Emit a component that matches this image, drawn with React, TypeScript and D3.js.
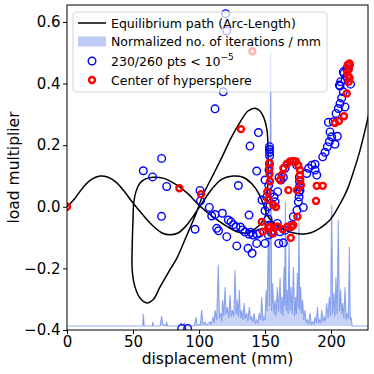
import { useEffect, useRef } from "react";
import * as d3 from "d3";

// equilibrium path (arc-length), [displacement mm, load multiplier]
const PATH: [number, number][] = [
  [0, 0], [6.1, 0.028], [12.9, 0.067], [18.9, 0.09], [25, 0.1], [31.1, 0.096], [37.1, 0.08],
  [43.2, 0.051], [50, 0.012], [56.8, -0.023], [64.4, -0.059], [72, -0.085], [78, -0.091],
  [84.1, -0.085], [90.2, -0.062], [96.2, -0.027], [102.3, 0.012], [109.8, 0.058], [117.4, 0.09],
  [125.8, 0.1], [133.3, 0.096], [140.2, 0.074], [145.5, 0.041], [149.2, 0.002], [150.8, -0.02],
  [147.7, -0.05], [142.4, -0.072], [136.4, -0.085], [129.5, -0.082], [122, -0.066], [110.6, -0.033],
  [100.8, 0.002], [90.9, 0.045], [81.8, 0.074], [72.7, 0.093], [65.2, 0.096], [59.1, 0.09],
  [55.3, 0.077], [52.3, 0.05], [50.6, 0.015], [50, -0.043], [49.4, -0.124], [49.4, -0.206],
  [51.5, -0.26], [55.3, -0.296], [60.6, -0.312], [65.2, -0.302], [70.5, -0.26], [76.5, -0.215],
  [83.3, -0.166], [90.2, -0.098], [97, -0.03], [103, 0.038], [110.6, 0.103], [117.4, 0.161],
  [124.2, 0.223], [131.1, 0.275], [137.1, 0.311], [142.4, 0.32], [146.2, 0.311], [149.2, 0.288],
  [151.5, 0.249], [152.3, 0.184], [152.3, 0.103], [151.5, 0.022], [150.8, -0.02], [153.8, -0.04],
  [159.8, -0.063], [168.9, -0.082], [176.5, -0.088], [184.1, -0.085], [191.7, -0.069],
  [199.2, -0.043], [206.8, 0.009], [212.1, 0.054], [217.4, 0.119], [222, 0.184], [225.8, 0.249],
  [228.8, 0.304], [231.1, 0.34],
];

// normalized no. of iterations per mm
const HIST_X = [
  0, 56, 57.3, 57.8, 58.5, 64.5, 65, 65.6, 70.5, 71.7, 72.5, 74.8, 75.5, 76.2, 85, 86.5, 87, 89, 90,
  96.5, 97.7, 98.5, 101, 102, 103, 104.5, 105.5, 108.3, 109, 110.8, 111.5, 112.1, 113.4, 114.6,
  115.5, 116.4, 117.2, 117.9, 118.8, 119.7, 120.6, 121.5, 122.5, 123.5, 124.4, 125.2, 126.3, 127.3,
  128.2, 129, 129.8, 130.5, 131.4, 132.3, 133.2, 134.1, 135, 136.1, 137, 138.1, 139, 139.9, 140.8,
  141.7, 142.7, 143.7, 144.7, 145.7, 146.6, 147.5, 148.4, 149.2, 150, 150.8, 151.6, 152.5, 153.4,
  154.3, 155, 155.8, 156.7, 157.6, 158.4, 159.3, 160.3, 161.4, 162.1, 162.9, 163.6, 164.4, 164.9,
  165.4, 166.1, 166.9, 167.5, 168.2, 168.9, 169.7, 170.6, 171.5, 172.4, 173.2, 173.8, 174.5, 175.1,
  175.7, 176.3, 177, 177.8, 178.5, 179.4, 180.3, 181.2, 182.1, 183, 184.1, 185, 186.1, 187, 187.9,
  188.8, 189.7, 190.5, 191.2, 192, 193, 193.9, 194.7, 195.7, 196.7, 197.7, 198.7, 199.6, 200.5,
  201.3, 202.2, 203, 203.7, 204.6, 205.5, 206.4, 207.3, 208, 208.8, 209.7, 210.6, 211.5, 212.3,
  213.1, 213.9, 214.6, 215.2, 216, 228,
];
const HIST_V = [
  0, 0, 0, 0.044, 0, 0, 0.015, 0, 0, 0.036, 0.007, 0, 0.015, 0, 0, 0.011, 0, 0.011, 0,
  0, 0.033, 0.004, 0.004, 0.058, 0.007, 0.015, 0.004, 0.015, 0.007, 0.033, 0.011, 0.058, 0.022, 0.223,
  0.029, 0.047, 0.018, 0.095, 0.036, 0.142, 0.044, 0.069, 0.029, 0.113, 0.033, 0.058, 0.036, 0.204,
  0.044, 0.095, 0.036, 0.131, 0.029, 0.058, 0.022, 0.084, 0.026, 0.047, 0.018, 0.069, 0.022, 0.033, 0.015,
  0.047, 0.011, 0.022, 0.011, 0.047, 0.022, 0.106, 0.018, 0.033, 0.022, 0.131, 0.055, 0.35, 0.073,
  1, 0.055, 0.157, 0.044, 0.095, 0.036, 0.142, 0.051, 0.175, 0.044, 0.106, 0.036, 0.215, 0.073,
  0.453, 0.055, 0.131, 0.044, 0.314, 0.055, 0.142, 0.044, 0.215, 0.036, 0.106, 0.044, 0.193, 0.066,
  0.398, 0.055, 0.142, 0.044, 0.095, 0.022, 0.058, 0.015, 0.022, 0.007, 0.047, 0.007, 0.015, 0.007, 0.033,
  0.011, 0.069, 0.015, 0.022, 0.011, 0.058, 0.015, 0.033, 0.018, 0.084, 0.029, 0.106, 0.036, 0.442,
  0.044, 0.12, 0.036, 0.179, 0.044, 0.387, 0.055, 0.131, 0.044, 0.084, 0.029, 0.142, 0.022, 0.047,
  0.029, 0.288, 0.022, 0.033, 0, 0,
];

// converged points (blue)
const BLUE_PTS: [number, number][] = [
  [120.2, 0.627], [121, 0.571], [118.4, 0.373], [112.1, 0.318],
  [71.7, 0.157], [57.8, 0.117], [64.8, 0.097], [75.5, 0.066], [71.6, -0.031],
  [100.8, 0.053], [101.1, 0.019], [107.8, -0.002], [97, -0.073],
  [109.6, -0.03], [112.1, -0.025], [117.7, -0.021], [122.2, -0.043], [124.2, -0.049], [128, -0.065],
  [131.4, -0.066], [134.8, -0.082], [137.9, -0.089], [140.9, -0.092], [143.9, -0.089],
  [126, -0.058], [133, -0.075], [139, -0.083], [146, -0.085],
  [113.4, -0.07], [114.8, -0.078], [121, -0.097], [128.6, -0.127], [137.1, -0.135], [140.2, -0.151],
  [143.7, -0.119], [129.8, 0.069], [137.9, -0.027], [138.6, 0.197], [145, 0.241], [143.7, 0.116],
  [150, -0.119], [152.5, -0.092], [154.5, -0.082], [156, -0.085], [159.3, -0.054], [161.4, -0.081],
  [160.4, -0.119], [163.9, -0.117], [165.2, -0.076], [170.2, -0.059], [171.4, -0.032], [174.2, -0.011],
  [179, -0.002], [175.2, 0.016], [175.8, 0.032], [176.5, 0.054], [176.1, 0.065],
  [157.6, 0.016], [156.8, 0.032], [159.6, 0.049], [153.8, 0.043], [151.3, 0.032], [150, -0.013],
  [147.7, 0.022], [153.4, 0.195], [153.4, 0.186], [153.4, 0.177], [150, 0.087], [153.3, 0.139],
  [153.5, 0.165], [153, 0.12], [152.8, 0.07], [152, 0], [152.3, -0.04], [153, -0.06],
  [160.6, 0.095], [162.1, 0.087], [163.9, 0.096], [165.2, 0.125], [174, 0.135], [176, 0.097],
  [176.1, 0.083], [175.8, 0.048], [181.6, 0.108], [185.4, 0.135], [187.9, 0.119], [189.2, 0.103],
  [183, 0.125], [187.9, 0.138], [193.7, 0.162], [195.5, 0.177], [197.2, 0.195], [198.7, 0.211],
  [200.5, 0.227], [204.8, 0.229], [203, 0.203], [199.2, 0.243], [198, 0.274], [201.7, 0.276],
  [203.8, 0.303], [205.5, 0.319], [206.8, 0.335], [210.6, 0.324], [208.1, 0.353], [209.3, 0.373],
  [206.8, 0.392], [207.3, 0.406], [210.6, 0.411], [209.3, 0.438], [211.9, 0.449], [213.9, 0.46],
  [211.9, 0.423], [214.8, 0.398], [206.3, 0.395], [209.8, 0.433],
  [86.9, -0.395], [91.4, -0.395],
];

// hypersphere centres (red)
const RED_PTS: [number, number][] = [
  [0, 0], [85.1, 0.06], [101.5, 0.041], [131.8, 0.252], [140.4, 0.505],
  [153.3, 0.142], [153.3, 0.125], [153.4, 0.106], [153.8, 0.083], [151.7, 0.049], [156.3, 0.006],
  [158.3, -0.001], [147.5, -0.049], [148.3, -0.081], [152.5, -0.067], [155.8, -0.086], [159.3, -0.065],
  [163.4, -0.073], [166.9, -0.065], [170.2, -0.065], [169.5, -0.101], [174.5, -0.032], [152.5, 0.024],
  [153.8, -0.065], [158.9, -0.065], [171.4, -0.059], [167.7, 0.054], [174.2, 0.054],
  [161.4, 0.087], [162.6, 0.103], [163.9, 0.125], [166.4, 0.139], [168.9, 0.147], [171.4, 0.149],
  [173.5, 0.147], [175.2, 0.135], [176.5, 0.119], [176.5, 0.103], [176.7, 0.087], [177.2, 0.07],
  [189.2, 0.068], [193.7, 0.068], [188.6, 0.019],
  [203, 0.272], [206, 0.278], [209.8, 0.294], [211.9, 0.368], [213.4, 0.406], [213.1, 0.424],
  [212.3, 0.438], [213.6, 0.447], [212.6, 0.46], [214, 0.465], [214, 0.418],
];

const X_TICKS = [0, 50, 100, 150, 200];
const Y_TICKS = [-0.4, -0.2, 0, 0.2, 0.4, 0.6];

const FONT = "DejaVu Sans, sans-serif";
const HIST_BASE = -0.387;
const HIST_SPAN = 0.89;

export default function App() {
  const svgRef = useRef<SVGSVGElement>(null);

  useEffect(() => {
    if (!svgRef.current) return;
    const svg = d3.select(svgRef.current);
    svg.selectAll("*").remove();

    const margin = { top: 5, right: 6, bottom: 44, left: 67 };
    const width = 374;
    const height = 374;

    const x = d3.scaleLinear().domain([0, 228]).range([margin.left, width - margin.right]);
    const y = d3.scaleLinear().domain([-0.4, 0.655]).range([height - margin.bottom, margin.top]);

    svg.append("defs")
      .append("clipPath")
      .attr("id", "plot-clip")
      .append("rect")
      .attr("x", margin.left)
      .attr("y", margin.top)
      .attr("width", width - margin.left - margin.right)
      .attr("height", height - margin.top - margin.bottom);

    svg.append("rect")
      .attr("width", width)
      .attr("height", height)
      .attr("fill", "#fff");

    const plot = svg.append("g").attr("clip-path", "url(#plot-clip)");

    // iteration histogram
    const hist = HIST_X.map((d, i) => ({ x: d, v: HIST_V[i] }));
    const area = d3.area<{ x: number; v: number }>()
      .x(d => x(d.x))
      .y0(y(HIST_BASE))
      .y1(d => y(HIST_BASE + d.v * HIST_SPAN));
    const histLine = d3.line<{ x: number; v: number }>()
      .x(d => x(d.x))
      .y(d => y(HIST_BASE + d.v * HIST_SPAN));

    plot.append("path")
      .datum(hist)
      .attr("fill", "royalblue")
      .attr("fill-opacity", 0.3)
      .attr("d", area);
    plot.append("path")
      .datum(hist)
      .attr("fill", "none")
      .attr("stroke", "royalblue")
      .attr("stroke-opacity", 0.55)
      .attr("stroke-width", 1.1)
      .attr("d", histLine);

    // equilibrium path
    const line = d3.line<[number, number]>()
      .x(d => x(d[0]))
      .y(d => y(d[1]))
      .curve(d3.curveCatmullRom.alpha(0.5));
    plot.append("path")
      .datum(PATH)
      .attr("fill", "none")
      .attr("stroke", "#000")
      .attr("stroke-width", 1.5)
      .attr("d", line);

    plot.selectAll("circle.blue")
      .data(BLUE_PTS)
      .join("circle")
      .attr("class", "blue")
      .attr("cx", d => x(d[0]))
      .attr("cy", d => y(d[1]))
      .attr("r", 3.8)
      .attr("fill", "none")
      .attr("stroke", "#0000ff")
      .attr("stroke-width", 1.4);

    plot.selectAll("circle.red")
      .data(RED_PTS)
      .join("circle")
      .attr("class", "red")
      .attr("cx", d => x(d[0]))
      .attr("cy", d => y(d[1]))
      .attr("r", 3)
      .attr("fill", "none")
      .attr("stroke", "#ff0000")
      .attr("stroke-width", 2.4);

    // axes
    const xAxis = svg.append("g")
      .attr("transform", `translate(0,${height - margin.bottom})`)
      .call(d3.axisBottom(x).tickValues(X_TICKS).tickSize(4).tickPadding(2.5).tickFormat(d3.format("d")));
    const yAxis = svg.append("g")
      .attr("transform", `translate(${margin.left},0)`)
      .call(d3.axisLeft(y).tickValues(Y_TICKS).tickSize(4).tickPadding(2.5).tickFormat(d3.format(".1f")));
    [xAxis, yAxis].forEach(g => {
      g.select(".domain").remove();
      g.selectAll("line").attr("stroke", "#000").attr("stroke-width", 1);
      g.selectAll("text")
        .attr("fill", "#000")
        .style("font-family", FONT)
        .style("font-size", "15px");
    });

    svg.append("rect")
      .attr("x", margin.left)
      .attr("y", margin.top)
      .attr("width", width - margin.left - margin.right)
      .attr("height", height - margin.top - margin.bottom)
      .attr("fill", "none")
      .attr("stroke", "#000")
      .attr("stroke-width", 1);

    svg.append("text")
      .attr("x", (margin.left + width - margin.right) / 2)
      .attr("y", 364)
      .attr("text-anchor", "middle")
      .style("font-family", FONT)
      .style("font-size", "15.5px")
      .text("displacement (mm)");

    svg.append("text")
      .attr("transform", `translate(19,${(margin.top + height - margin.bottom) / 2}) rotate(-90)`)
      .attr("text-anchor", "middle")
      .style("font-family", FONT)
      .style("font-size", "15.5px")
      .text("load multiplier");

    // legend
    const lg = svg.append("g").attr("transform", "translate(73,12)");
    lg.append("rect")
      .attr("width", 254)
      .attr("height", 80)
      .attr("rx", 3)
      .attr("fill", "#fff")
      .attr("fill-opacity", 0.7)
      .attr("stroke", "#d6d6d6")
      .attr("stroke-width", 1);

    const rows = [11, 29.5, 49, 68];
    lg.append("line")
      .attr("x1", 5).attr("x2", 33)
      .attr("y1", rows[0]).attr("y2", rows[0])
      .attr("stroke", "#000").attr("stroke-width", 1.5);
    lg.append("rect")
      .attr("x", 5).attr("y", rows[1] - 5)
      .attr("width", 28).attr("height", 10)
      .attr("fill", "royalblue").attr("fill-opacity", 0.35);
    lg.append("circle")
      .attr("cx", 19).attr("cy", rows[2]).attr("r", 3.8)
      .attr("fill", "none").attr("stroke", "#0000ff").attr("stroke-width", 1.4);
    lg.append("circle")
      .attr("cx", 19).attr("cy", rows[3]).attr("r", 3)
      .attr("fill", "none").attr("stroke", "#ff0000").attr("stroke-width", 2.4);

    const labels = ["Equilibrium path (Arc-Length)", "Normalized no. of iterations / mm", "", "Center of hypersphere"];
    labels.forEach((t, i) => {
      if (!t) return;
      lg.append("text")
        .attr("x", 38)
        .attr("y", rows[i] + 4.5)
        .style("font-family", FONT)
        .style("font-size", "12.5px")
        .text(t);
    });
    const pts = lg.append("text")
      .attr("x", 38)
      .attr("y", rows[2] + 4.5)
      .style("font-family", FONT)
      .style("font-size", "12.5px");
    pts.append("tspan").text("230/260 pts < 10");
    pts.append("tspan")
      .attr("dy", -6)
      .style("font-size", "9px")
      .text("\u22125");
  }, []);

  return (
    <svg
      ref={svgRef}
      width={374}
      height={374}
      style={{ position: "absolute", left: 0, top: 0 }}
    />
  );
}
